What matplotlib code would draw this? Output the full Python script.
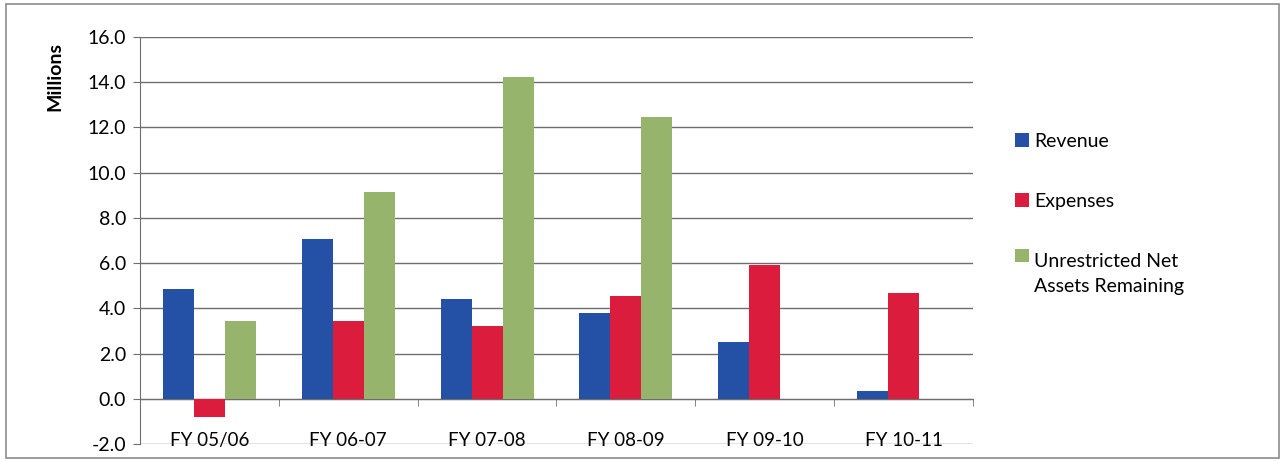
import numpy as np
import matplotlib
matplotlib.use("Agg")
import matplotlib.pyplot as plt
from matplotlib.patches import Rectangle, Patch
from matplotlib.legend_handler import HandlerPatch

categories = ["FY 05/06", "FY 06-07", "FY 07-08", "FY 08-09", "FY 09-10", "FY 10-11"]
revenue = [4.85, 7.05, 4.4, 3.8, 2.5, 0.35]
expenses = [-0.8, 3.45, 3.2, 4.55, 5.9, 4.7]
net_assets = [3.45, 9.15, 14.25, 12.45, 0.0, 0.0]
series_names = ["Revenue", "Expenses", "Unrestricted Net\nAssets Remaining"]
y_ticks = [-2.0, 0.0, 2.0, 4.0, 6.0, 8.0, 10.0, 12.0, 14.0, 16.0]

colors = ["#2451a6", "#dc1c3c", "#97b46c"]

plt.rcParams['font.family'] = ['Lato', 'DejaVu Sans']

fig = plt.figure(figsize=(12.85, 4.61), dpi=100)
ax = fig.add_axes([140 / 1285, 1 - 444 / 461, (973 - 140) / 1285, (444 - 37) / 461])

# outer chart border
fig.patches.append(Rectangle((0.005, 0.006), 0.99, 0.985, transform=fig.transFigure,
                             fill=False, edgecolor="#8c8c8c", linewidth=1.2))

x = np.arange(len(categories))
w = 0.223
for i, vals in enumerate([revenue, expenses, net_assets]):
    ax.bar(x + (i - 1) * w, vals, width=w, color=colors[i], zorder=3)

ax.set_xlim(-0.5, len(categories) - 0.5)
ax.set_ylim(-2, 16)
ax.set_yticks(y_ticks)
ax.set_yticklabels([f"{t:.1f}" for t in y_ticks], fontsize=14)
ax.yaxis.grid(True, color="#6e6e6e", linewidth=1.0, zorder=0)
ax.tick_params(axis="y", length=5, color="#6e6e6e", pad=5)

# category axis sits on zero
ax.spines["bottom"].set_position(("data", 0))
ax.spines["bottom"].set_color("#6e6e6e")
ax.spines["left"].set_color("#6e6e6e")
ax.spines["top"].set_visible(False)
ax.spines["right"].set_visible(False)
ax.set_xticks(x)
ax.set_xticklabels(categories, fontsize=13.5)
ax.set_xticks(np.arange(-0.5, len(categories), 1.0), minor=True)
ax.tick_params(axis="x", which="major", length=0, pad=24)
ax.tick_params(axis="x", which="minor", length=5, color="#6e6e6e")

ax.text(-0.102, 0.902, "Millions", transform=ax.transAxes, rotation=90,
        ha="center", va="center", fontsize=14, fontweight="bold")


def top_line_patch(legend, orig_handle, xdescent, ydescent, width, height, fontsize):
    # keep the square next to the first text line for two-line labels
    shift = 0.0
    if "\n" in orig_handle.get_label():
        shift = fontsize * 0.95
    return Rectangle((-xdescent, -ydescent + shift), width, height)


handles = []
for c, name in zip(colors, series_names):
    handles.append(Patch(facecolor=c, edgecolor="none", label=name))
leg = fig.legend(handles=handles, loc="upper left", bbox_to_anchor=(1015 / 1285, 1 - 133 / 461),
                 frameon=False, fontsize=14, handlelength=0.7, handleheight=0.7,
                 handletextpad=0.3, labelspacing=2.2, borderaxespad=0, borderpad=0,
                 handler_map={Patch: HandlerPatch(patch_func=top_line_patch)})
for t in leg.get_texts():
    t.set_linespacing(1.6)

fig.savefig("out.png", dpi=100)
